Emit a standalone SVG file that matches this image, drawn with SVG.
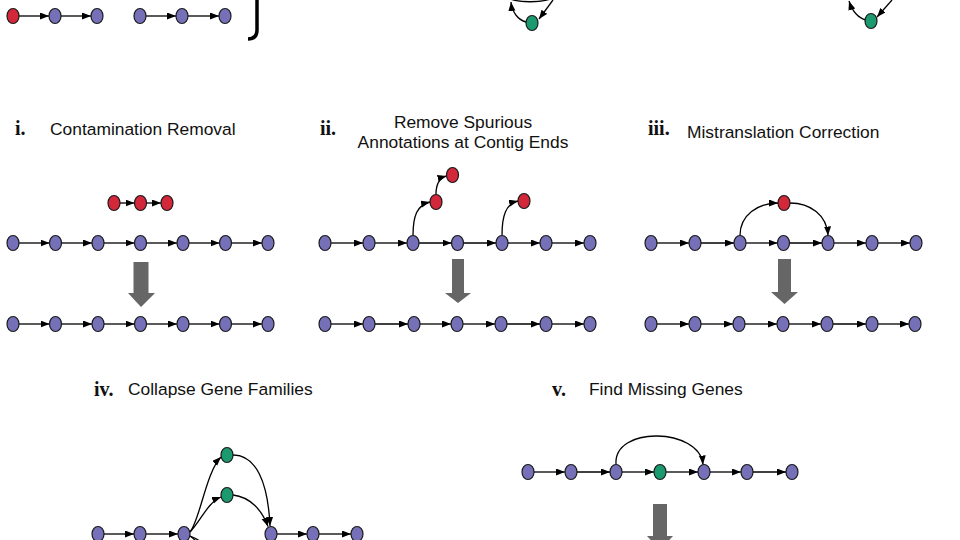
<svg xmlns="http://www.w3.org/2000/svg" width="960" height="540" viewBox="0 0 960 540">
<defs>
<style>
.p{fill:#7570b8}
.r{fill:#d3273a}
.g{fill:#1b9a70}
.e{stroke:#000;stroke-width:1.3;fill:none;marker-end:url(#ah)}
.big{fill:#666}
.lbl{font-family:"Liberation Sans",Arial,sans-serif;font-size:17.4px;fill:#111}
.num{font-family:"Liberation Serif","Times New Roman",serif;font-size:20px;font-weight:bold;fill:#111}
</style>
<marker id="ah" markerUnits="userSpaceOnUse" markerWidth="10" markerHeight="8" refX="9" refY="3.5" orient="auto">
<path d="M0,0 L9,3.5 L0,7 z" fill="#000"/>
</marker>
<ellipse id="nd" rx="6" ry="7.5" stroke="#1a1a1a" stroke-width="1.2"/>
</defs>
<rect width="960" height="540" fill="#fff"/>

<g id="connectors">
<!-- top strip -->
<line class="e" x1="19" y1="16" x2="49" y2="16"/>
<line class="e" x1="61" y1="16" x2="91" y2="16"/>
<line class="e" x1="146" y1="16" x2="176" y2="16"/>
<line class="e" x1="188" y1="16" x2="219" y2="16"/>
<path d="M257,-2 L257,30 Q257,39 248,39" stroke="#000" stroke-width="3.5" fill="none"/>
<path class="e" d="M526,22 C518,20 512,12 511,2"/>
<path d="M504,-5 C512,4 548,4 557,-5" stroke="#000" stroke-width="1.3" fill="none"/>
<path class="e" d="M553,0 L539,19"/>
<path class="e" d="M866,20 C858,18 852,10 849,1"/>
<path class="e" d="M892,0 L877,17"/>

<!-- panel i -->
<line class="e" x1="120" y1="203" x2="134.5" y2="203"/>
<line class="e" x1="146.5" y1="203" x2="161" y2="203"/>
<line class="e" x1="19" y1="243" x2="49.5" y2="243"/>
<line class="e" x1="61.5" y1="243" x2="92" y2="243"/>
<line class="e" x1="104" y1="243" x2="134.5" y2="243"/>
<line class="e" x1="146.5" y1="243" x2="177" y2="243"/>
<line class="e" x1="189" y1="243" x2="219.5" y2="243"/>
<line class="e" x1="231.5" y1="243" x2="262" y2="243"/>
<line class="e" x1="19" y1="324" x2="49.5" y2="324"/>
<line class="e" x1="61.5" y1="324" x2="92" y2="324"/>
<line class="e" x1="104" y1="324" x2="134.5" y2="324"/>
<line class="e" x1="146.5" y1="324" x2="177" y2="324"/>
<line class="e" x1="189" y1="324" x2="219.5" y2="324"/>
<line class="e" x1="231.5" y1="324" x2="262" y2="324"/>
<polygon class="big" points="133.5,262 148.5,262 148.5,293 155,293 141,307 128,293 133.5,293"/>

<!-- panel ii -->
<line class="e" x1="331" y1="243" x2="363" y2="243"/>
<line class="e" x1="375" y1="243" x2="407" y2="243"/>
<line class="e" x1="419" y1="243" x2="451.5" y2="243"/>
<line class="e" x1="463.5" y1="243" x2="496" y2="243"/>
<line class="e" x1="508" y1="243" x2="540" y2="243"/>
<line class="e" x1="552" y1="243" x2="584" y2="243"/>
<path class="e" d="M413,235.5 C413,216 417,205 430,202"/>
<path class="e" d="M436,194.5 C436,184 439,178 446.5,176"/>
<path class="e" d="M502,235.5 C502,215 506,204 518,201"/>
<line class="e" x1="331" y1="324" x2="363" y2="324"/>
<line class="e" x1="375" y1="324" x2="408" y2="324"/>
<line class="e" x1="420" y1="324" x2="451" y2="324"/>
<line class="e" x1="463" y1="324" x2="495" y2="324"/>
<line class="e" x1="507" y1="324" x2="540" y2="324"/>
<line class="e" x1="552" y1="324" x2="584" y2="324"/>
<polygon class="big" points="452,259 464,259 464,293 471,293 458,303 445,293 452,293"/>

<!-- panel iii -->
<line class="e" x1="657" y1="243" x2="689" y2="243"/>
<line class="e" x1="701" y1="243" x2="734" y2="243"/>
<line class="e" x1="746" y1="243" x2="777.5" y2="243"/>
<line class="e" x1="789.5" y1="243" x2="822" y2="243"/>
<line class="e" x1="834" y1="243" x2="866" y2="243"/>
<line class="e" x1="878" y1="243" x2="910" y2="243"/>
<path class="e" d="M740,235.5 C740,215 758,203 778,203"/>
<path class="e" d="M790,203 C810,203 827,215 828,235.5"/>
<line class="e" x1="657" y1="324" x2="689" y2="324"/>
<line class="e" x1="701" y1="324" x2="733" y2="324"/>
<line class="e" x1="745" y1="324" x2="777" y2="324"/>
<line class="e" x1="789" y1="324" x2="821" y2="324"/>
<line class="e" x1="833" y1="324" x2="866" y2="324"/>
<line class="e" x1="878" y1="324" x2="909" y2="324"/>
<polygon class="big" points="778,259 791,259 791,292 798,292 784.5,304 771,292 778,292"/>

<!-- panel iv -->
<line class="e" x1="104" y1="534" x2="134" y2="534"/>
<line class="e" x1="146" y1="534" x2="178" y2="534"/>
<line class="e" x1="277" y1="534" x2="307" y2="534"/>
<line class="e" x1="319" y1="534" x2="351" y2="534"/>
<path class="e" d="M190,532 C200,520 206,472 221,457"/>
<path class="e" d="M190,532 C200,522 208,502 221,497"/>
<path class="e" d="M233,455 C256,455 268,482 270,526"/>
<path class="e" d="M233,495 C250,497 262,510 268,526.5"/>
<path d="M190,536 C196,540 200,545 203,552" stroke="#000" stroke-width="1.3" fill="none"/>
<path d="M190,536 C198,539 204,543 208,550" stroke="#000" stroke-width="1.3" fill="none"/>

<!-- panel v -->
<line class="e" x1="534" y1="472" x2="565" y2="472"/>
<line class="e" x1="577" y1="472" x2="610" y2="472"/>
<line class="e" x1="622" y1="472" x2="654" y2="472"/>
<line class="e" x1="666" y1="472" x2="698" y2="472"/>
<line class="e" x1="710" y1="472" x2="741" y2="472"/>
<line class="e" x1="753" y1="472" x2="786" y2="472"/>
<path class="e" d="M616,464.5 C613,425 700,428 703,464.5"/>
<polygon class="big" points="653,504 667,504 667,536 673,536 660,550 647,536 653,536"/>
</g>

<!-- labels -->
<text class="num" x="15" y="135">i.</text>
<text class="lbl" x="50" y="135">Contamination Removal</text>
<text class="num" x="320" y="135">ii.</text>
<text class="lbl" x="463" y="128" text-anchor="middle">Remove Spurious</text>
<text class="lbl" x="463" y="148" text-anchor="middle">Annotations at Contig Ends</text>
<text class="num" x="648" y="135">iii.</text>
<text class="lbl" x="687" y="138">Mistranslation Correction</text>
<text class="num" x="94" y="396">iv.</text>
<text class="lbl" x="128" y="395">Collapse Gene Families</text>
<text class="num" x="552" y="396">v.</text>
<text class="lbl" x="589" y="395">Find Missing Genes</text>

<!-- top strip nodes -->
<g id="t1"><use href="#nd" x="13" y="16" class="r"/></g>
<g id="t2"><use href="#nd" x="55" y="16" class="p"/></g>
<g id="t3"><use href="#nd" x="97" y="16" class="p"/></g>
<g id="t4"><use href="#nd" x="140" y="16" class="p"/></g>
<g id="t5"><use href="#nd" x="182" y="16" class="p"/></g>
<g id="t6"><use href="#nd" x="225" y="16" class="p"/></g>
<g id="t7"><use href="#nd" x="532" y="23" class="g"/></g>
<g id="t8"><use href="#nd" x="871" y="21" class="g"/></g>

<!-- panel i nodes -->
<g id="i-r1"><use href="#nd" x="114" y="203" class="r"/></g>
<g id="i-r2"><use href="#nd" x="140.5" y="203" class="r"/></g>
<g id="i-r3"><use href="#nd" x="167" y="203" class="r"/></g>
<g id="i-a1"><use href="#nd" x="13" y="243" class="p"/></g>
<g id="i-a2"><use href="#nd" x="55.5" y="243" class="p"/></g>
<g id="i-a3"><use href="#nd" x="98" y="243" class="p"/></g>
<g id="i-a4"><use href="#nd" x="140.5" y="243" class="p"/></g>
<g id="i-a5"><use href="#nd" x="183" y="243" class="p"/></g>
<g id="i-a6"><use href="#nd" x="225.5" y="243" class="p"/></g>
<g id="i-a7"><use href="#nd" x="268" y="243" class="p"/></g>
<g id="i-b1"><use href="#nd" x="13" y="324" class="p"/></g>
<g id="i-b2"><use href="#nd" x="55.5" y="324" class="p"/></g>
<g id="i-b3"><use href="#nd" x="98" y="324" class="p"/></g>
<g id="i-b4"><use href="#nd" x="140.5" y="324" class="p"/></g>
<g id="i-b5"><use href="#nd" x="183" y="324" class="p"/></g>
<g id="i-b6"><use href="#nd" x="225.5" y="324" class="p"/></g>
<g id="i-b7"><use href="#nd" x="268" y="324" class="p"/></g>

<!-- panel ii nodes -->
<g id="ii-r1"><use href="#nd" x="436" y="202" class="r"/></g>
<g id="ii-r2"><use href="#nd" x="452.5" y="175" class="r"/></g>
<g id="ii-r3"><use href="#nd" x="524" y="201" class="r"/></g>
<g id="ii-a1"><use href="#nd" x="325" y="243" class="p"/></g>
<g id="ii-a2"><use href="#nd" x="369" y="243" class="p"/></g>
<g id="ii-a3"><use href="#nd" x="413" y="243" class="p"/></g>
<g id="ii-a4"><use href="#nd" x="457.5" y="243" class="p"/></g>
<g id="ii-a5"><use href="#nd" x="502" y="243" class="p"/></g>
<g id="ii-a6"><use href="#nd" x="546" y="243" class="p"/></g>
<g id="ii-a7"><use href="#nd" x="590" y="243" class="p"/></g>
<g id="ii-b1"><use href="#nd" x="325" y="324" class="p"/></g>
<g id="ii-b2"><use href="#nd" x="369" y="324" class="p"/></g>
<g id="ii-b3"><use href="#nd" x="414" y="324" class="p"/></g>
<g id="ii-b4"><use href="#nd" x="457" y="324" class="p"/></g>
<g id="ii-b5"><use href="#nd" x="501" y="324" class="p"/></g>
<g id="ii-b6"><use href="#nd" x="546" y="324" class="p"/></g>
<g id="ii-b7"><use href="#nd" x="590" y="324" class="p"/></g>

<!-- panel iii nodes -->
<g id="iii-r1"><use href="#nd" x="784" y="203" class="r"/></g>
<g id="iii-a1"><use href="#nd" x="651" y="243" class="p"/></g>
<g id="iii-a2"><use href="#nd" x="695" y="243" class="p"/></g>
<g id="iii-a3"><use href="#nd" x="740" y="243" class="p"/></g>
<g id="iii-a4"><use href="#nd" x="783.5" y="243" class="p"/></g>
<g id="iii-a5"><use href="#nd" x="828" y="243" class="p"/></g>
<g id="iii-a6"><use href="#nd" x="872" y="243" class="p"/></g>
<g id="iii-a7"><use href="#nd" x="916" y="243" class="p"/></g>
<g id="iii-b1"><use href="#nd" x="651" y="324" class="p"/></g>
<g id="iii-b2"><use href="#nd" x="695" y="324" class="p"/></g>
<g id="iii-b3"><use href="#nd" x="739" y="324" class="p"/></g>
<g id="iii-b4"><use href="#nd" x="783" y="324" class="p"/></g>
<g id="iii-b5"><use href="#nd" x="827" y="324" class="p"/></g>
<g id="iii-b6"><use href="#nd" x="872" y="324" class="p"/></g>
<g id="iii-b7"><use href="#nd" x="915" y="324" class="p"/></g>

<!-- panel iv nodes -->
<g id="iv-g1"><use href="#nd" x="227" y="455" class="g"/></g>
<g id="iv-g2"><use href="#nd" x="227" y="495" class="g"/></g>
<g id="iv-a1"><use href="#nd" x="98" y="534" class="p"/></g>
<g id="iv-a2"><use href="#nd" x="140" y="534" class="p"/></g>
<g id="iv-a3"><use href="#nd" x="184" y="534" class="p"/></g>
<g id="iv-a4"><use href="#nd" x="271" y="534" class="p"/></g>
<g id="iv-a5"><use href="#nd" x="313" y="534" class="p"/></g>
<g id="iv-a6"><use href="#nd" x="357" y="534" class="p"/></g>

<!-- panel v nodes -->
<g id="v-a1"><use href="#nd" x="528" y="472" class="p"/></g>
<g id="v-a2"><use href="#nd" x="571" y="472" class="p"/></g>
<g id="v-a3"><use href="#nd" x="616" y="472" class="p"/></g>
<g id="v-g1"><use href="#nd" x="660" y="472" class="g"/></g>
<g id="v-a5"><use href="#nd" x="704" y="472" class="p"/></g>
<g id="v-a6"><use href="#nd" x="747" y="472" class="p"/></g>
<g id="v-a7"><use href="#nd" x="792" y="472" class="p"/></g>
</svg>
